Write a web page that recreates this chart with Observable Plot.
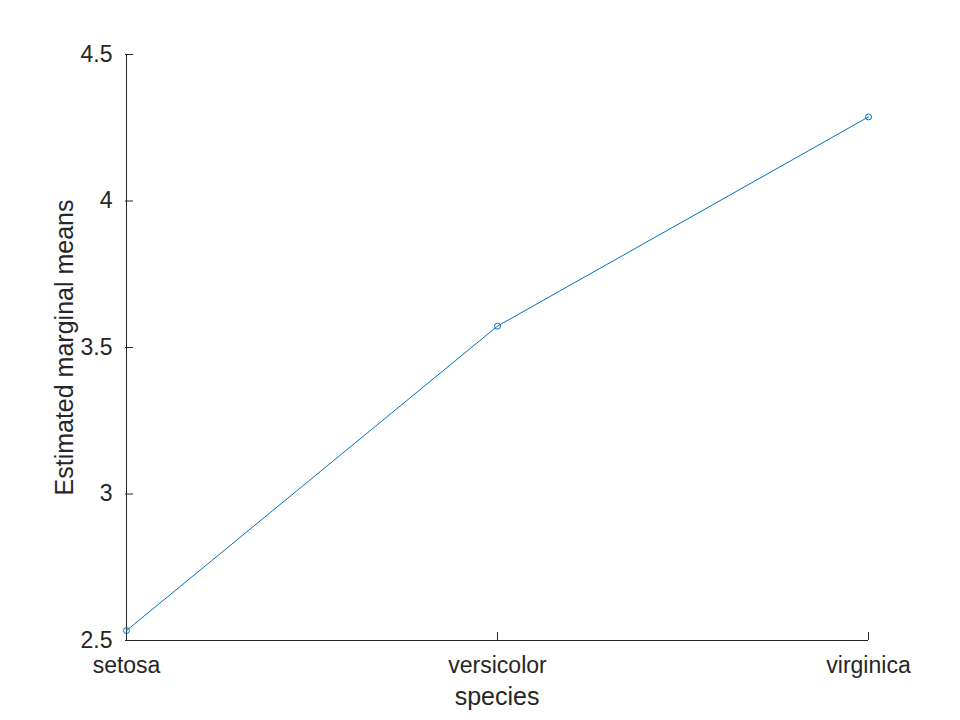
<!DOCTYPE html>
<html>
<head>
<meta charset="utf-8">
<script src="https://cdn.jsdelivr.net/npm/d3@7"></script>
<script src="https://cdn.jsdelivr.net/npm/@observablehq/plot@0.6"></script>
<style>
  html, body { margin: 0; padding: 0; background: #fff; }
  #chart svg { display: block; }
</style>
</head>
<body>
<div id="chart"></div>
<script>
const species = ["setosa", "versicolor", "virginica"];
const means = [2.534, 3.573, 4.287];
const yTicks = [2.5, 3, 3.5, 4, 4.5];
const yTickLabels = ["2.5", "3", "3.5", "4", "4.5"];

const data = species.map((s, i) => ({species: s, mean: means[i]}));
const axisColor = "#262626";
const font = "Liberation Sans, Arial, Helvetica, sans-serif";

const chart = Plot.plot({
  width: 960,
  height: 720,
  marginLeft: 125,
  marginRight: 92,
  marginTop: 54,
  marginBottom: 80,
  style: {fontFamily: font, background: "#fff", color: axisColor},
  x: {type: "point", domain: species, padding: 0},
  y: {domain: [2.5, 4.5]},
  marks: [
    // axis lines (left and bottom)
    Plot.ruleX([species[0]], {stroke: axisColor, strokeWidth: 1}),
    Plot.ruleY([2.5], {stroke: axisColor, strokeWidth: 1}),
    // inward ticks
    Plot.axisY({ticks: yTicks, tickSize: 8, dx: 8, tickFormat: () => "", label: null, stroke: axisColor}),
    Plot.axisX({ticks: species, tickSize: 8, dy: -8, tickFormat: () => "", label: null, stroke: axisColor}),
    // tick labels
    Plot.axisY({ticks: yTicks, tickSize: 0, tickPadding: 13,
      tickFormat: d => yTickLabels[yTicks.indexOf(d)],
      fontSize: 23, fill: axisColor,
      label: "Estimated marginal means", labelAnchor: "center", labelArrow: "none", labelOffset: 70}),
    Plot.axisX({ticks: species, tickSize: 0, tickPadding: 16, fontSize: 23, fill: axisColor,
      label: "species", labelAnchor: "center", labelArrow: "none", labelOffset: 64}),
    // data
    Plot.line(data, {x: "species", y: "mean", stroke: "#0072BD", strokeWidth: 1}),
    Plot.dot(data, {x: "species", y: "mean", stroke: "#0072BD", r: 3, strokeWidth: 1, fill: "none"})
  ]
});

// enlarge the axis labels
chart.querySelectorAll("g[aria-label='y-axis label'] text, g[aria-label='x-axis label'] text").forEach(t => {
  t.setAttribute("font-size", 25);
});
document.getElementById("chart").appendChild(chart);
</script>
</body>
</html>
